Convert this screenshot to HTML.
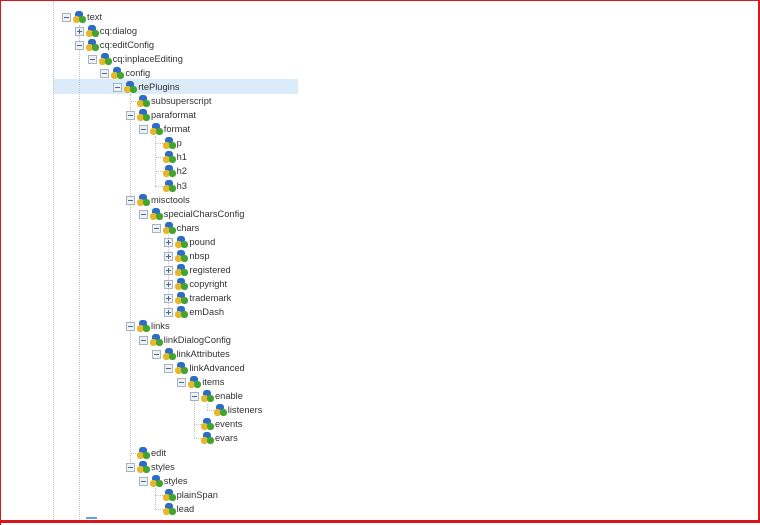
<!DOCTYPE html>
<html><head><meta charset="utf-8"><style>
html,body{margin:0;padding:0;background:#fff}
#f{position:relative;width:760px;height:525px;overflow:hidden;box-sizing:border-box;border-top:1px solid #d9161c;border-left:1px solid #d9161c;font-family:"Liberation Sans",sans-serif;font-size:9.3px;color:#333}
#f:after{content:"";position:absolute;left:-1px;top:519px;width:761px;height:3px;background:#d9161c}
#rb{position:absolute;right:0;top:-1px;width:2px;height:522px;background:#d9161c}
.r{position:absolute;height:14px;white-space:nowrap}
.e{position:absolute;left:0;top:3px;width:7px;height:7px;border:1px solid #a7b3c0;background:#eef2f6}
.e:before{content:"";position:absolute;left:1px;top:3px;width:5px;height:1px;background:#4a6890}
.e.p:after{content:"";position:absolute;left:3px;top:1px;width:1px;height:5px;background:#4a6890}
.i{position:absolute;left:11px;top:1px;width:13px;height:12px}
.i:before{content:"";position:absolute;left:2px;top:0;width:8px;height:7px;background:#2b6cc9;border-radius:3px}
.i:after{content:"";position:absolute;left:6px;top:5px;width:7px;height:7px;background:#43a52f;border-radius:3px}
.i b{position:absolute;left:0;top:5px;width:7px;height:7px;background:#e6b72a;border-radius:3px}
.t{position:absolute;left:25px;top:0;line-height:14px}
.v{position:absolute;width:0;border-left:1px dotted #c4c4c4}
.h{position:absolute;height:0;border-top:1px dotted #c4c4c4}
</style></head><body><div id="f"><div id="rb"></div>
<div style="position:absolute;left:52px;top:78px;width:245px;height:15px;background:#dcebfa"></div>
<div class="v" style="left:52px;top:0;height:520px"></div>
<div class="v" style="left:78px;top:24px;height:496px"></div>
<div class="v" style="left:129px;top:93px;height:372px"></div>
<div class="v" style="left:154px;top:135px;height:50px"></div>
<div class="v" style="left:167px;top:234px;height:77px"></div>
<div class="v" style="left:193px;top:395px;height:42px"></div>
<div class="v" style="left:206px;top:402px;height:7px"></div>
<div class="v" style="left:154px;top:487px;height:21px"></div>
<div class="h" style="left:129px;top:100px;width:8px"></div>
<div class="h" style="left:129px;top:452px;width:8px"></div>
<div class="h" style="left:154px;top:142px;width:8px"></div>
<div class="h" style="left:154px;top:156px;width:8px"></div>
<div class="h" style="left:154px;top:170px;width:8px"></div>
<div class="h" style="left:154px;top:185px;width:8px"></div>
<div class="h" style="left:206px;top:409px;width:7px"></div>
<div class="h" style="left:193px;top:423px;width:7px"></div>
<div class="h" style="left:193px;top:437px;width:7px"></div>
<div class="h" style="left:154px;top:494px;width:8px"></div>
<div class="h" style="left:154px;top:508px;width:8px"></div>
<div style="position:absolute;left:85px;top:516px;width:11px;height:2px;background:#5aa7dc"></div>

<div class="r" style="top:9px;left:61px"><span class="e"></span><span class="i"><b></b></span><span class="t">text</span></div>
<div class="r" style="top:23px;left:73.8px"><span class="e p"></span><span class="i"><b></b></span><span class="t">cq:dialog</span></div>
<div class="r" style="top:37px;left:73.8px"><span class="e"></span><span class="i"><b></b></span><span class="t">cq:editConfig</span></div>
<div class="r" style="top:51px;left:86.6px"><span class="e"></span><span class="i"><b></b></span><span class="t">cq:inplaceEditing</span></div>
<div class="r" style="top:65px;left:99.4px"><span class="e"></span><span class="i"><b></b></span><span class="t">config</span></div>
<div class="r" style="top:79px;left:112.2px"><span class="e"></span><span class="i"><b></b></span><span class="t">rtePlugins</span></div>
<div class="r" style="top:93px;left:125px"><span class="i"><b></b></span><span class="t">subsuperscript</span></div>
<div class="r" style="top:107px;left:125px"><span class="e"></span><span class="i"><b></b></span><span class="t">paraformat</span></div>
<div class="r" style="top:121px;left:137.8px"><span class="e"></span><span class="i"><b></b></span><span class="t">format</span></div>
<div class="r" style="top:135px;left:150.6px"><span class="i"><b></b></span><span class="t">p</span></div>
<div class="r" style="top:149px;left:150.6px"><span class="i"><b></b></span><span class="t">h1</span></div>
<div class="r" style="top:163px;left:150.6px"><span class="i"><b></b></span><span class="t">h2</span></div>
<div class="r" style="top:178px;left:150.6px"><span class="i"><b></b></span><span class="t">h3</span></div>
<div class="r" style="top:192px;left:125px"><span class="e"></span><span class="i"><b></b></span><span class="t">misctools</span></div>
<div class="r" style="top:206px;left:137.8px"><span class="e"></span><span class="i"><b></b></span><span class="t">specialCharsConfig</span></div>
<div class="r" style="top:220px;left:150.6px"><span class="e"></span><span class="i"><b></b></span><span class="t">chars</span></div>
<div class="r" style="top:234px;left:163.4px"><span class="e p"></span><span class="i"><b></b></span><span class="t">pound</span></div>
<div class="r" style="top:248px;left:163.4px"><span class="e p"></span><span class="i"><b></b></span><span class="t">nbsp</span></div>
<div class="r" style="top:262px;left:163.4px"><span class="e p"></span><span class="i"><b></b></span><span class="t">registered</span></div>
<div class="r" style="top:276px;left:163.4px"><span class="e p"></span><span class="i"><b></b></span><span class="t">copyright</span></div>
<div class="r" style="top:290px;left:163.4px"><span class="e p"></span><span class="i"><b></b></span><span class="t">trademark</span></div>
<div class="r" style="top:304px;left:163.4px"><span class="e p"></span><span class="i"><b></b></span><span class="t">emDash</span></div>
<div class="r" style="top:318px;left:125px"><span class="e"></span><span class="i"><b></b></span><span class="t">links</span></div>
<div class="r" style="top:332px;left:137.8px"><span class="e"></span><span class="i"><b></b></span><span class="t">linkDialogConfig</span></div>
<div class="r" style="top:346px;left:150.6px"><span class="e"></span><span class="i"><b></b></span><span class="t">linkAttributes</span></div>
<div class="r" style="top:360px;left:163.4px"><span class="e"></span><span class="i"><b></b></span><span class="t">linkAdvanced</span></div>
<div class="r" style="top:374px;left:176.2px"><span class="e"></span><span class="i"><b></b></span><span class="t">items</span></div>
<div class="r" style="top:388px;left:189px"><span class="e"></span><span class="i"><b></b></span><span class="t">enable</span></div>
<div class="r" style="top:402px;left:201.8px"><span class="i"><b></b></span><span class="t">listeners</span></div>
<div class="r" style="top:416px;left:189px"><span class="i"><b></b></span><span class="t">events</span></div>
<div class="r" style="top:430px;left:189px"><span class="i"><b></b></span><span class="t">evars</span></div>
<div class="r" style="top:445px;left:125px"><span class="i"><b></b></span><span class="t">edit</span></div>
<div class="r" style="top:459px;left:125px"><span class="e"></span><span class="i"><b></b></span><span class="t">styles</span></div>
<div class="r" style="top:473px;left:137.8px"><span class="e"></span><span class="i"><b></b></span><span class="t">styles</span></div>
<div class="r" style="top:487px;left:150.6px"><span class="i"><b></b></span><span class="t">plainSpan</span></div>
<div class="r" style="top:501px;left:150.6px"><span class="i"><b></b></span><span class="t">lead</span></div>
</div></body></html>
